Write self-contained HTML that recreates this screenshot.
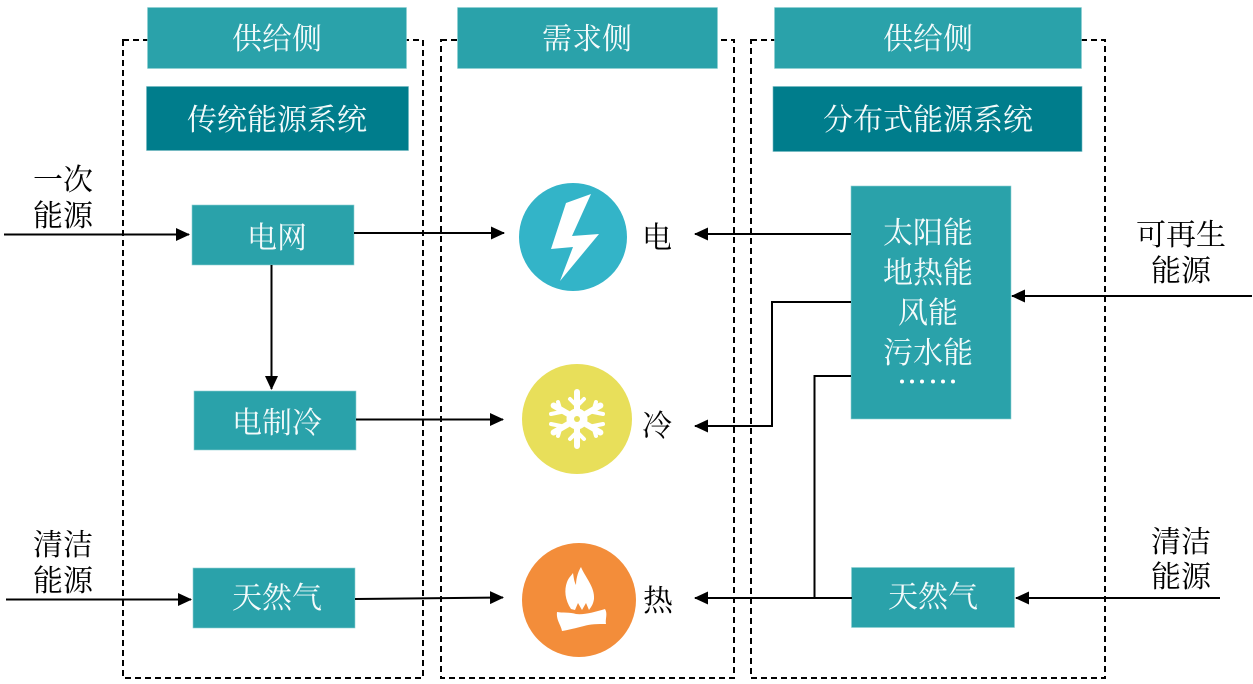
<!DOCTYPE html>
<html lang="zh">
<head>
<meta charset="utf-8">
<style>
html,body{margin:0;padding:0;background:#fff;width:1253px;height:684px;overflow:hidden}
svg{display:block}
text{font-family:"Liberation Serif","Noto Serif CJK SC",serif;font-size:30px;text-anchor:middle}
.w{fill:#f4fbfb}
.k{fill:#000}
</style>
</head>
<body>
<svg width="1253" height="684" viewBox="0 0 1253 684" xmlns="http://www.w3.org/2000/svg">
<defs>
<marker id="a" markerUnits="userSpaceOnUse" markerWidth="16" markerHeight="16" refX="13" refY="8" orient="auto">
<path d="M0 1.500 L14 8 L0 14.500 Z" fill="#000"/>
</marker>
</defs>
<!-- dashed containers -->
<g fill="none" stroke="#000" stroke-width="2" stroke-dasharray="6 4">
<rect x="123" y="40" width="300" height="638"/>
<rect x="441" y="40" width="293" height="638"/>
<rect x="751" y="40" width="354" height="638"/>
</g>
<!-- headers -->
<g fill="#2aa2aa" stroke="#8fd0d3" stroke-width="0.6">
<rect x="147.500" y="7.500" width="259" height="61"/>
<rect x="457.500" y="7.500" width="260" height="61"/>
<rect x="774.500" y="7.500" width="307" height="61"/>
</g>
<g fill="#007d8c" stroke="#70b8c0" stroke-width="0.6">
<rect x="146.500" y="86.500" width="262" height="64"/>
<rect x="773" y="86.500" width="309" height="65"/>
</g>
<!-- boxes -->
<g fill="#2aa2aa" stroke="#8fd0d3" stroke-width="0.6">
<rect x="192" y="205" width="162" height="60"/>
<rect x="194" y="391" width="162" height="59"/>
<rect x="193" y="568" width="162" height="60"/>
<rect x="851" y="186" width="160" height="233"/>
<rect x="851.500" y="567.500" width="163" height="60"/>
</g>
<!-- connectors -->
<g fill="none" stroke="#000" stroke-width="2">
<path d="M4 234.500H189" marker-end="url(#a)"/>
<path d="M271.500 265V389" marker-end="url(#a)"/>
<path d="M354 233H504" marker-end="url(#a)"/>
<path d="M356 419.500H503" marker-end="url(#a)"/>
<path d="M6 599.500H191" marker-end="url(#a)"/>
<path d="M355 599L503 597.500" marker-end="url(#a)"/>
<path d="M851 234H695" marker-end="url(#a)"/>
<path d="M851 302H772V426H695" marker-end="url(#a)"/>
<path d="M851 376H814.500V598"/>
<path d="M852 598H695" marker-end="url(#a)"/>
<path d="M1252 296H1012" marker-end="url(#a)"/>
<path d="M1220 598H1016" marker-end="url(#a)"/>
</g>
<!-- icons -->
<circle cx="573" cy="237" r="54" fill="#33b4c8"/>
<path d="M591 194 L566 203 L551 249 L573 247 L560 281 L599 234 L572 236 Z" fill="#fff"/>
<circle cx="577" cy="419" r="55" fill="#e8df5a"/>
<g stroke="#fff" stroke-width="6" stroke-linecap="round" fill="none">
<path d="M577 392V446M553.600 405.500L600.400 432.500M553.600 432.500L600.400 405.500"/>
</g>
<g stroke="#fff" stroke-width="4" stroke-linecap="round" fill="none">
<path d="M570 399L577 406L584 399M570 439L577 432L584 439"/>
<path d="M551 414L561 412L558 402M603 424L593 426L596 436M551 424L561 426L558 436M603 414L593 412L596 402"/>
</g>
<circle cx="577" cy="419" r="9" fill="#fff" stroke="#fff" stroke-width="3"/>
<circle cx="577" cy="419" r="3" fill="#e8df5a"/>
<circle cx="579" cy="600" r="57" fill="#f38d3a"/>
<path d="M571 609 C565 600 564 590 567 582 C569 577 571 576 573 573 C574 579 574 581 576 585 C576 577 579 570 581 567 C585 577 595 587 594 599 C593 605 591 607 589 610 L586 603 L582 610 L578 603 L575 610 Z" fill="#fff"/>
<path d="M557 612 C562 613 570 612 576 614 C584 615 595 612 605 609 C608 614 605 619 606 624 C598 624 590 624 584 626 C576 628 568 630 562 631 C561 625 556 620 557 612 Z" fill="#fff"/>
<!-- box text -->
<g class="w">
<text class="w" x="277" y="49">供给侧</text>
<text class="w" x="587" y="49">需求侧</text>
<text class="w" x="928" y="49">供给侧</text>
<text class="w" x="277" y="130">传统能源系统</text>
<text class="w" x="928" y="130">分布式能源系统</text>
<text class="w" x="277" y="248">电网</text>
<text class="w" x="277" y="433">电制冷</text>
<text class="w" x="277" y="608">天然气</text>
<text class="w" x="933" y="607">天然气</text>
<text class="w" x="928" y="243">太阳能</text>
<text class="w" x="928" y="283">地热能</text>
<text class="w" x="928" y="323">风能</text>
<text class="w" x="928" y="363">污水能</text>
</g>
<g fill="#fff">
<circle cx="902" cy="381.500" r="2"/><circle cx="912" cy="381.500" r="2"/><circle cx="922" cy="381.500" r="2"/><circle cx="933" cy="381.500" r="2"/><circle cx="943" cy="381.500" r="2"/><circle cx="953" cy="381.500" r="2"/>
</g>
<!-- outer text -->
<text class="k" x="63" y="190">一次</text>
<text class="k" x="63" y="226">能源</text>
<text class="k" x="63" y="555">清洁</text>
<text class="k" x="63" y="591">能源</text>
<text class="k" x="1181" y="245">可再生</text>
<text class="k" x="1181" y="281">能源</text>
<text class="k" x="1181" y="552">清洁</text>
<text class="k" x="1181" y="587">能源</text>
<text class="k" x="657" y="248">电</text>
<text class="k" x="657" y="436">冷</text>
<text class="k" x="658" y="611">热</text>
</svg>
</body>
</html>
